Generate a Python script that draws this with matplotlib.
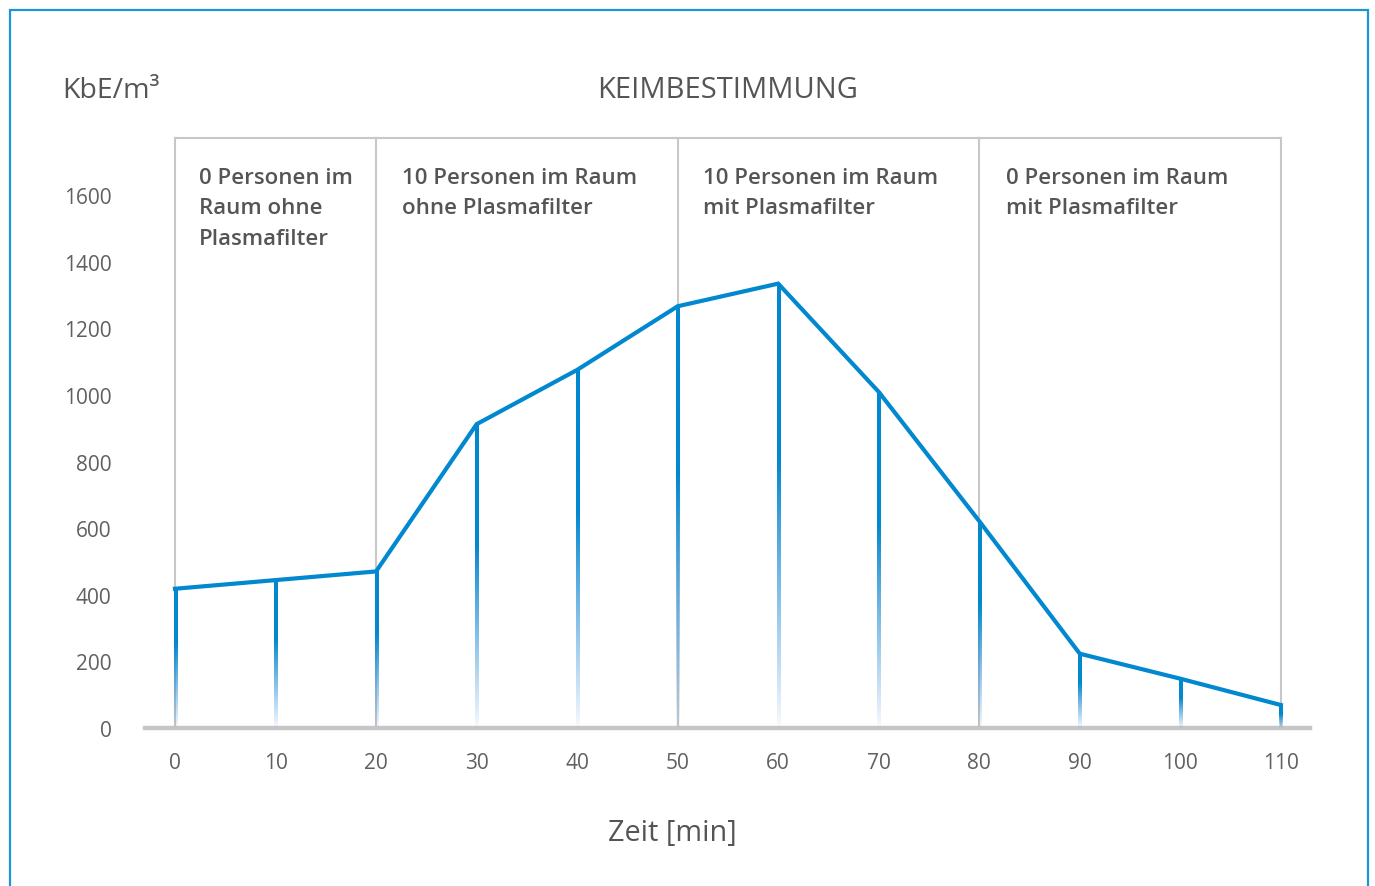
import numpy as np
import matplotlib
matplotlib.use("Agg")
import matplotlib.pyplot as plt
from matplotlib.patches import Rectangle
from matplotlib.colors import to_rgb

# ---- data ----
minutes = [0, 10, 20, 30, 40, 50, 60, 70, 80, 90, 100, 110]
kbe = [418, 444, 470, 912, 1075, 1266, 1334, 1009, 621, 223, 148, 69]
phase_bounds = [0, 20, 50, 80, 110]
phase_labels = [
    "0 Personen im\nRaum ohne\nPlasmafilter",
    "10 Personen im Raum\nohne Plasmafilter",
    "10 Personen im Raum\nmit Plasmafilter",
    "0 Personen im Raum\nmit Plasmafilter",
]
yticks = [0, 200, 400, 600, 800, 1000, 1200, 1400, 1600]
xticks = minutes
box_top = 1771

W, H = 1375, 887
fig = plt.figure(figsize=(W / 100, H / 100), dpi=100)
plt.rcParams['font.family'] = ['Open Sans', 'DejaVu Sans']

ax = fig.add_axes([145 / W, (H - 729) / H, (1310 - 145) / W, (729 - 129.4) / H])
ax.set_xlim(-2.985, 112.9)
ax.set_ylim(0, 1800)
for s in ax.spines.values():
    s.set_visible(False)

line_col = "#0288cf"
gray = "#c8c8c8"
text_gray = "#555555"

# phase box
ax.plot([phase_bounds[0], phase_bounds[-1]], [box_top, box_top], color=gray, lw=1.5, zorder=1)
for b in phase_bounds:
    ax.plot([b, b], [0, box_top], color=gray, lw=1.5, zorder=1)

# baseline
ax.axhline(0, color="#c6c6c6", lw=3.2, zorder=2, clip_on=False)

# gradient drop lines (vertical gradient images)
c_top = np.array(to_rgb(line_col))
c_mid = np.array(to_rgb("#5d9fe0"))
n = 200
f = np.linspace(0, 1, n)  # 0 bottom, 1 top
rgba = np.zeros((n, 1, 4))
for i, fi in enumerate(f):
    if fi > 0.6:
        c, a = c_top, 1.0
    else:
        t = fi / 0.6
        c = c_mid + (c_top - c_mid) * t
        a = min(1.0, 0.03 + 0.97 * t ** 0.8)
    rgba[i, 0, :3] = c
    rgba[i, 0, 3] = a
half_w = 1.5 / 10.05
for x, v in zip(minutes, kbe):
    ax.imshow(rgba, extent=(x - half_w, x + half_w, 0, v), origin='lower',
              aspect='auto', interpolation='bilinear', zorder=3)
ax.set_xlim(-2.985, 112.9)
ax.set_ylim(0, 1800)

# main line
ax.plot(minutes, kbe, color=line_col, lw=3.0, zorder=4, solid_joinstyle='miter')

# ticks
ax.set_xticks(xticks)
ax.set_xticklabels([str(t) for t in xticks])
ax.set_yticks(yticks)
ax.set_yticklabels([str(t) for t in yticks])
ax.tick_params(axis='both', length=0, labelsize=15, labelcolor="#606060")
ax.tick_params(axis='x', pad=17)
ax.tick_params(axis='y', pad=24)

# phase labels
offsets = [2.4, 2.6, 2.5, 2.7]
for b, lab, o in zip(phase_bounds[:-1], phase_labels, offsets):
    ax.text(b + o, 1685, lab, fontsize=16, fontweight='semibold', color=text_gray,
            va='top', ha='left', linespacing=1.6)

# texts
fig.text(62 / W, 1 - 91 / H, "KbE/m³", fontsize=20.5, color="#555555", va='center', ha='left')
fig.text(728 / W, 1 - 91 / H, "KEIMBESTIMMUNG", fontsize=21, color="#555555", va='center', ha='center')
fig.text(672 / W, 1 - 834 / H, "Zeit [min]", fontsize=20.8, color="#555555", va='center', ha='center')

# frame
fig.patches.append(Rectangle((10 / W, -0.05), (1368 - 10) / W, 1 - 11 / H + 0.05,
                             transform=fig.transFigure, fill=False,
                             edgecolor="#1b95d5", lw=1.6, zorder=0))

fig.savefig("out.png", dpi=100)
